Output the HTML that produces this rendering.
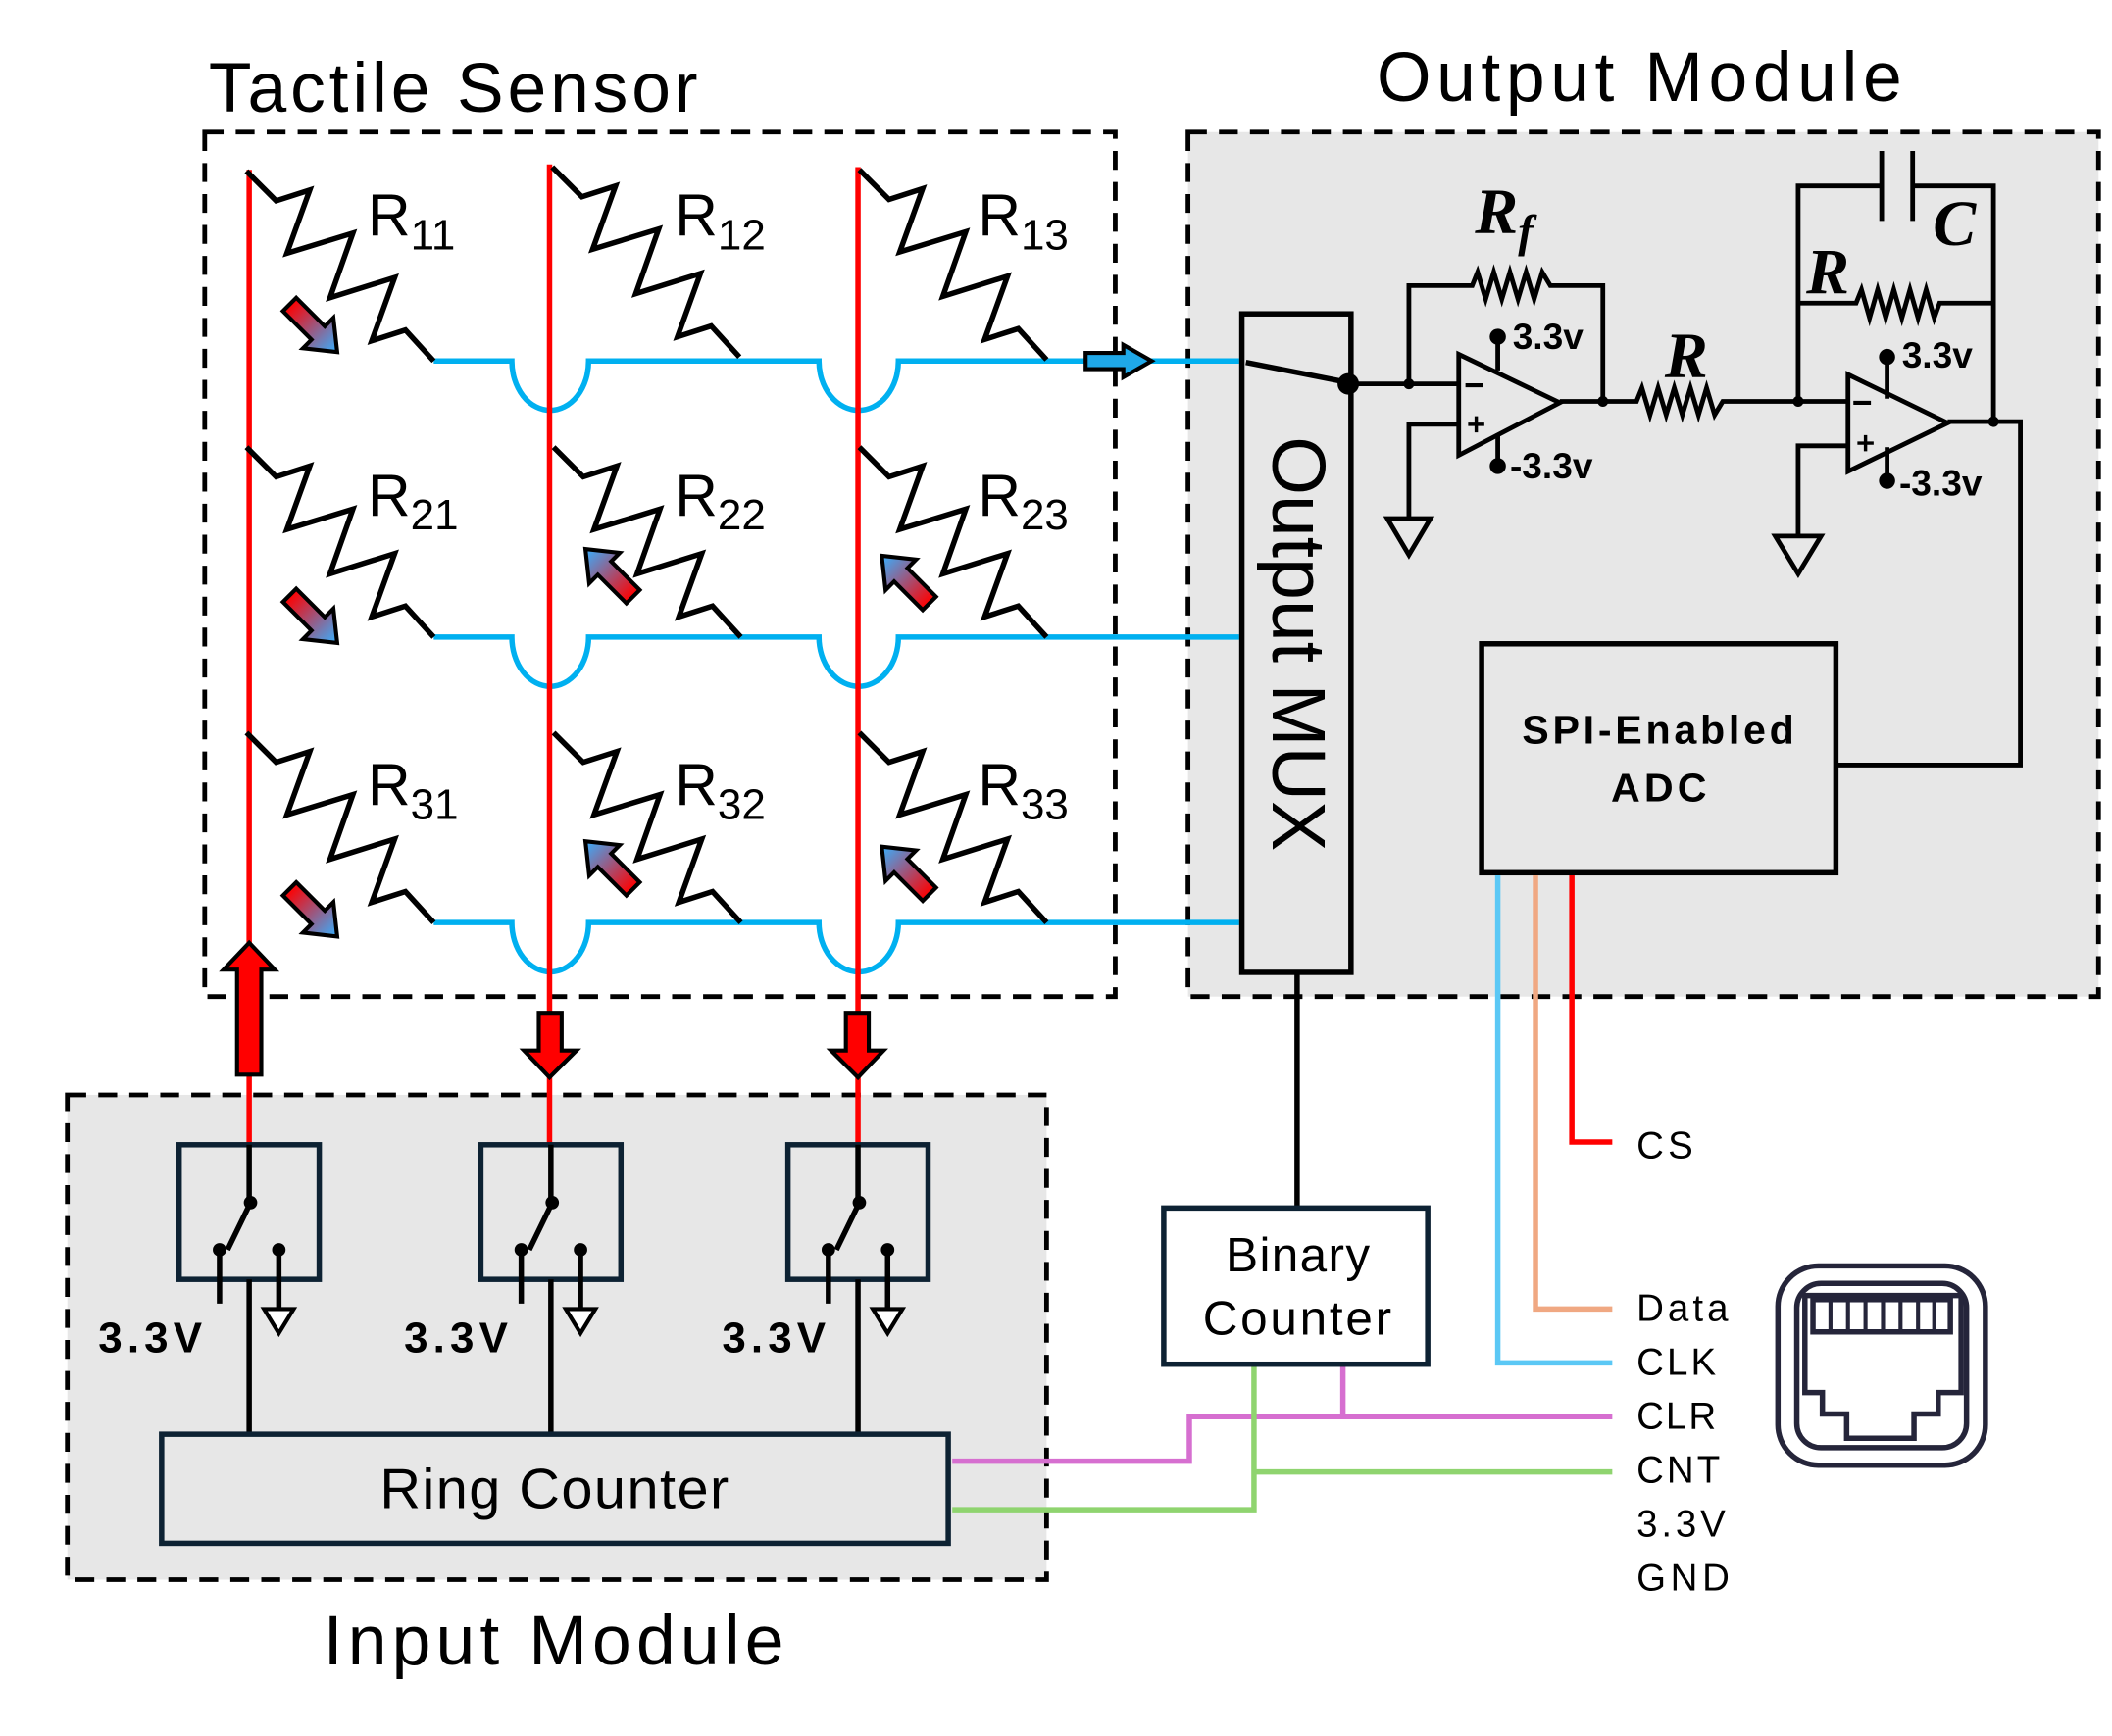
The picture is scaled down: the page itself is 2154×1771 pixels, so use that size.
<!DOCTYPE html>
<html><head><meta charset="utf-8"><style>html,body{margin:0;padding:0;background:#fff}svg{display:block}</style></head>
<body>
<svg width="2154" height="1771" viewBox="0 0 1568 1289" xmlns="http://www.w3.org/2000/svg" font-family="'Liberation Sans', sans-serif">
<defs>
<linearGradient id="g" gradientUnits="userSpaceOnUse" x1="0" y1="0" x2="48" y2="0"><stop offset="0" stop-color="#ff0000"/><stop offset="1" stop-color="#3fa9f5"/></linearGradient>
<g id="res"><polyline points="0,0 22,22 47,14 30,61 79,46 62,94 110,79 93,126 118,118 139,141" fill="none" stroke="#000" stroke-width="4" stroke-linejoin="miter"/></g>
<g id="ga"><polygon points="0,-7 30,-7 30,-16 50,0 30,16 30,7 0,7" fill="url(#g)" stroke="#000" stroke-width="3"/></g>
<g id="sw"><rect x="0" y="0" width="104" height="100" fill="none" stroke="#0d2233" stroke-width="4"/>
<line x1="52" y1="0" x2="52" y2="43" stroke="#000" stroke-width="4"/><circle cx="53" cy="43" r="5"/>
<line x1="53" y1="43" x2="36" y2="78" stroke="#000" stroke-width="4"/>
<circle cx="30" cy="78" r="5"/><circle cx="74" cy="78" r="5"/>
<line x1="30" y1="78" x2="30" y2="118" stroke="#000" stroke-width="4"/>
<line x1="74" y1="78" x2="74" y2="122" stroke="#000" stroke-width="4"/>
<polygon points="63,122 85,122 74,140" fill="#fff" stroke="#000" stroke-width="3"/>
<line x1="52" y1="100" x2="52" y2="215" stroke="#000" stroke-width="4"/></g>
</defs>

<text x="155" y="83" font-size="52" textLength="363">Tactile Sensor</text>
<text x="1022" y="75" font-size="52" textLength="390">Output Module</text>
<text x="240" y="1236" font-size="52" textLength="342">Input Module</text>

<rect x="882" y="98" width="676" height="642" fill="#e7e7e7" stroke="#000" stroke-width="3.5" stroke-dasharray="14,9"/>
<rect x="152" y="98" width="676" height="642" fill="none" stroke="#000" stroke-width="3.5" stroke-dasharray="14,9"/>
<rect x="50" y="813" width="727" height="360" fill="#e7e7e7" stroke="#000" stroke-width="3.5" stroke-dasharray="14,9"/>

<g fill="none" stroke="#00b0f0" stroke-width="4">
<path d="M322,268 H380 A28,36 0 0 0 437,268 H608 A29,36 0 0 0 667,268 H920"/>
<path d="M322,473 H380 A28,36 0 0 0 437,473 H608 A29,36 0 0 0 667,473 H920"/>
<path d="M322,685 H380 A28,36 0 0 0 437,685 H608 A29,36 0 0 0 667,685 H920"/>
</g>
<polygon points="806,262 834,262 834,256 855,268 834,280 834,274 806,274" fill="#1fa8e8" stroke="#000" stroke-width="3"/>

<g stroke="#ff0000" stroke-width="4">
<line x1="185" y1="126" x2="185" y2="850"/>
<line x1="408" y1="122" x2="408" y2="850"/>
<line x1="637" y1="124" x2="637" y2="850"/>
</g>

<use href="#res" x="183" y="127"/><use href="#res" x="410" y="124"/><use href="#res" x="638" y="126"/>
<use href="#res" x="183" y="332"/><use href="#res" x="411" y="332"/><use href="#res" x="638" y="332"/>
<use href="#res" x="183" y="544"/><use href="#res" x="411" y="544"/><use href="#res" x="638" y="544"/>

<g font-size="44">
<text x="273" y="175">R<tspan font-size="32" dy="10">11</tspan></text>
<text x="501" y="175">R<tspan font-size="32" dy="10">12</tspan></text>
<text x="726" y="175">R<tspan font-size="32" dy="10">13</tspan></text>
<text x="273" y="383">R<tspan font-size="32" dy="10">21</tspan></text>
<text x="501" y="383">R<tspan font-size="32" dy="10">22</tspan></text>
<text x="726" y="383">R<tspan font-size="32" dy="10">23</tspan></text>
<text x="273" y="598">R<tspan font-size="32" dy="10">31</tspan></text>
<text x="501" y="598">R<tspan font-size="32" dy="10">32</tspan></text>
<text x="726" y="598">R<tspan font-size="32" dy="10">33</tspan></text>
</g>

<use href="#ga" transform="translate(215,226) rotate(45)"/>
<use href="#ga" transform="translate(215,442) rotate(45)"/>
<use href="#ga" transform="translate(215,660) rotate(45)"/>
<use href="#ga" transform="translate(470,443) rotate(-135)"/>
<use href="#ga" transform="translate(690,448) rotate(-135)"/>
<use href="#ga" transform="translate(470,660) rotate(-135)"/>
<use href="#ga" transform="translate(690,664) rotate(-135)"/>

<polygon points="176,798 194,798 194,720 204,720 185,700 166,720 176,720" fill="#ff0000" stroke="#000" stroke-width="3"/>
<polygon points="400,752 417,752 417,780 428,780 408,800 389,780 400,780" fill="#ff0000" stroke="#000" stroke-width="3"/>
<polygon points="628,752 645,752 645,780 656,780 637,800 617,780 628,780" fill="#ff0000" stroke="#000" stroke-width="3"/>

<use href="#sw" x="133" y="850"/>
<use href="#sw" x="357" y="850"/>
<use href="#sw" x="585" y="850"/>
<g font-size="32" font-weight="bold">
<text x="73" y="1004" textLength="77">3.3V</text><text x="300" y="1004" textLength="77">3.3V</text><text x="536" y="1004" textLength="77">3.3V</text>
</g>
<rect x="120" y="1065" width="584" height="81" fill="#e7e7e7" stroke="#0d2233" stroke-width="4"/>
<text x="282" y="1120" font-size="42" textLength="259">Ring Counter</text>

<polyline points="707,1085 883,1085 883,1052 1197,1052" fill="none" stroke="#d66fd0" stroke-width="4"/>
<line x1="997" y1="1013" x2="997" y2="1052" stroke="#d66fd0" stroke-width="4"/>
<polyline points="707,1121 931,1121 931,1013" fill="none" stroke="#8fd46f" stroke-width="4"/>
<line x1="931" y1="1093" x2="1197" y2="1093" stroke="#8fd46f" stroke-width="4"/>

<line x1="963" y1="722" x2="963" y2="897" stroke="#000" stroke-width="4"/>
<rect x="864" y="897" width="196" height="116" fill="#fff" stroke="#0d2233" stroke-width="4"/>
<text x="910" y="944" font-size="36" textLength="107">Binary</text>
<text x="893" y="991" font-size="36" textLength="140">Counter</text>

<rect x="922" y="233" width="81" height="489" fill="#e7e7e7" stroke="#000" stroke-width="4"/>
<text transform="translate(945,478) rotate(90)" font-size="56" text-anchor="middle">Output MUX</text>
<line x1="925" y1="269" x2="1001" y2="284" stroke="#000" stroke-width="4"/>
<circle cx="1001" cy="285" r="8"/>

<g fill="none" stroke="#000" stroke-width="3.5">
<line x1="1001" y1="285" x2="1083" y2="285"/>
<polyline points="1046,285 1046,212 1093,212 1097,202 1103,222 1109,202 1115,222 1121,202 1127,222 1133,202 1139,222 1145,202 1151,212 1190,212 1190,298"/>
<polyline points="1083,315 1046,315 1046,385"/>
<polygon points="1030,385 1062,385 1046,412"/>
<polygon points="1083,263 1083,338 1158,299" fill="#e7e7e7"/>
<polyline points="1158,298 1215,298 1219,288 1225,308 1231,288 1237,308 1243,288 1249,308 1255,288 1261,308 1267,288 1273,308 1279,298 1372,298"/>
<line x1="1112" y1="250" x2="1112" y2="275"/>
<line x1="1112" y1="322" x2="1112" y2="346"/>
<polyline points="1335,298 1335,138 1397,138"/>
<line x1="1397" y1="112" x2="1397" y2="164"/>
<line x1="1420" y1="112" x2="1420" y2="164"/>
<polyline points="1420,138 1480,138 1480,313"/>
<polyline points="1335,225 1378,225 1382,215 1388,236 1394,215 1400,236 1406,215 1412,236 1418,215 1424,236 1430,215 1436,236 1440,225 1480,225"/>
<polyline points="1372,331 1335,331 1335,398"/>
<polygon points="1318,398 1352,398 1335,426"/>
<polygon points="1372,278 1372,350 1446,314" fill="#e7e7e7"/>
<polyline points="1446,313 1500,313 1500,568 1363,568"/>
<line x1="1401" y1="265" x2="1401" y2="296"/>
<line x1="1401" y1="332" x2="1401" y2="357"/>
<path d="M1088,286 H1101 M1376,299 H1389" stroke-width="3"/>
<path d="M1090,315 H1102 M1096,309 V321 M1379,329 H1391 M1385,323 V335" stroke-width="2.5"/>
</g>
<g fill="#000">
<circle cx="1046" cy="285" r="4"/><circle cx="1190" cy="298" r="4"/><circle cx="1335" cy="298" r="4"/><circle cx="1480" cy="313" r="4"/>
<circle cx="1112" cy="250" r="6"/><circle cx="1112" cy="346" r="6"/><circle cx="1401" cy="265" r="6"/><circle cx="1401" cy="357" r="6"/>
</g>
<g font-size="27" font-weight="bold">
<text x="1123" y="259">3.3v</text><text x="1121" y="355">-3.3v</text>
<text x="1412" y="273">3.3v</text><text x="1410" y="368">-3.3v</text>
</g>
<g font-family="'Liberation Serif', serif" font-weight="bold" font-style="italic" font-size="48">
<text x="1095" y="173">R<tspan font-size="34" dy="10">f</tspan></text>
<text x="1435" y="182">C</text>
<text x="1341" y="218">R</text>
<text x="1236" y="280">R</text>
</g>

<rect x="1100" y="478" width="263" height="170" fill="#e7e7e7" stroke="#000" stroke-width="4"/>
<text x="1130" y="552" font-size="30" font-weight="bold" textLength="202">SPI-Enabled</text>
<text x="1196" y="595" font-size="30" font-weight="bold" textLength="71">ADC</text>
<polyline points="1112,650 1112,1012 1197,1012" fill="none" stroke="#5bc8f5" stroke-width="4"/>
<polyline points="1140,650 1140,972 1197,972" fill="none" stroke="#f0a882" stroke-width="4"/>
<polyline points="1167,650 1167,848 1197,848" fill="none" stroke="#ff0000" stroke-width="4"/>
<g font-size="28">
<text x="1215" y="860" textLength="42">CS</text><text x="1215" y="981" textLength="68">Data</text><text x="1215" y="1021" textLength="59">CLK</text>
<text x="1215" y="1061" textLength="59">CLR</text><text x="1215" y="1101" textLength="62">CNT</text><text x="1215" y="1141" textLength="66">3.3V</text><text x="1215" y="1181" textLength="69">GND</text>
</g>

<g fill="none" stroke="#25253a" stroke-width="4">
<rect x="1320" y="940" width="154" height="148" rx="30"/>
<rect x="1334" y="953" width="126" height="122" rx="18"/>
<polygon points="1340,962 1456,962 1456,1034 1439,1034 1439,1050 1421,1050 1421,1068 1371,1068 1371,1050 1353,1050 1353,1034 1340,1034"/>
<rect x="1346" y="965" width="102" height="24"/>
<path d="M1359,965 V989 M1372,965 V989 M1385,965 V989 M1398,965 V989 M1411,965 V989 M1424,965 V989 M1436,965 V989" stroke-width="3"/>
</g>
</svg>
</body></html>
